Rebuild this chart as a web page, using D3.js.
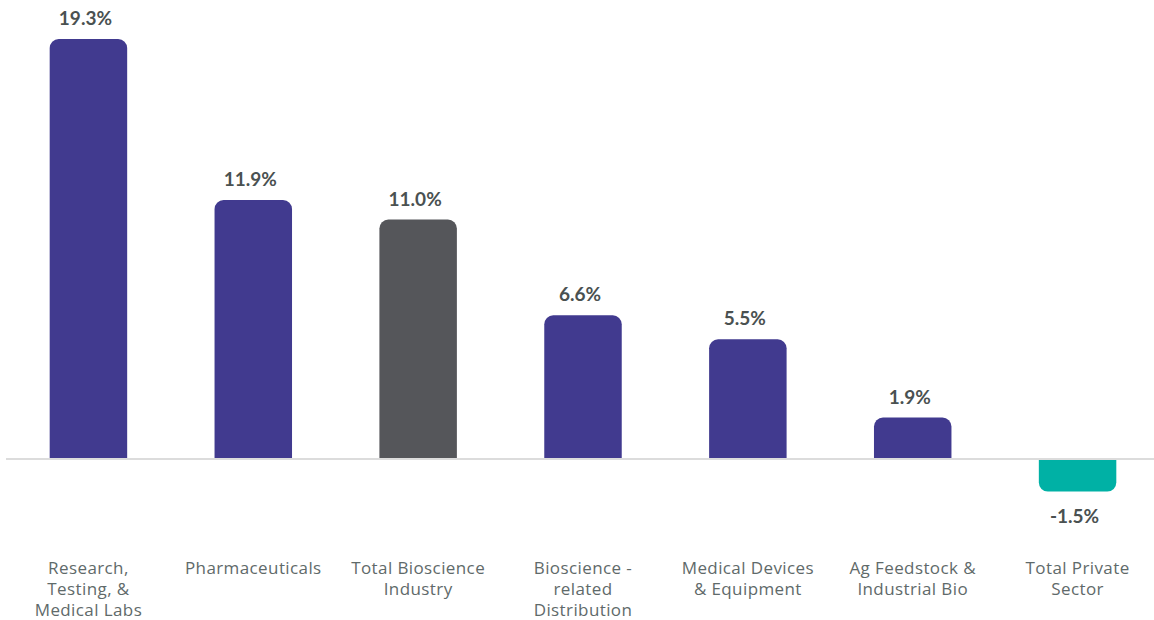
<!DOCTYPE html>
<html>
<head>
<meta charset="utf-8">
<script src="https://cdn.jsdelivr.net/npm/d3@7"></script>
<style>
  body { margin: 0; background: #fff; }
  svg { display: block; font-family: Lato, "Noto Sans", sans-serif; }
</style>
</head>
<body>
<script>
const categories = [
  ["Research,", "Testing, &", "Medical Labs"],
  ["Pharmaceuticals"],
  ["Total Bioscience", "Industry"],
  ["Bioscience -", "related", "Distribution"],
  ["Medical Devices", "& Equipment"],
  ["Ag Feedstock &", "Industrial Bio"],
  ["Total Private", "Sector"]
];
const values = [19.3, 11.9, 11.0, 6.6, 5.5, 1.9, -1.5];
const kinds = ["segment", "segment", "total", "segment", "segment", "segment", "private"];
const colors = { segment: "#413a8f", total: "#55565a", private: "#00b1a5" };

const width = 1154, height = 620;
const svg = d3.select("body").append("svg")
  .attr("width", width).attr("height", height);

const x = d3.scaleBand()
  .domain(d3.range(values.length))
  .range([6, 1160])
  .paddingInner(0.53)
  .paddingOuter(0.265);

const y = d3.scaleLinear()
  .domain([-1.5, 19.3])
  .range([491.6, 39]);

const r = 9;
function barPath(i) {
  const x0 = x(i), w = x.bandwidth(), y0 = y(0), y1 = y(values[i]);
  const s = values[i] >= 0 ? 1 : -1;
  const p = d3.path();
  p.moveTo(x0, y0);
  p.lineTo(x0, y1 + s * r);
  p.arcTo(x0, y1, x0 + r, y1, r);
  p.lineTo(x0 + w - r, y1);
  p.arcTo(x0 + w, y1, x0 + w, y1 + s * r, r);
  p.lineTo(x0 + w, y0);
  p.closePath();
  return p.toString();
}

svg.append("g").selectAll("path")
  .data(values)
  .join("path")
  .attr("d", (d, i) => barPath(i))
  .attr("fill", (d, i) => colors[kinds[i]]);

// zero line
svg.append("line")
  .attr("x1", 6).attr("x2", width)
  .attr("y1", y(0)).attr("y2", y(0))
  .attr("stroke", "#dcdcdc").attr("stroke-width", 2);

// value labels
svg.append("g").selectAll("text")
  .data(values)
  .join("text")
  .attr("x", (d, i) => x(i) + x.bandwidth() / 2 - 3)
  .attr("y", d => d >= 0 ? y(d) - 14 : y(d) + 31)
  .attr("text-anchor", "middle")
  .attr("font-size", 19)
  .attr("font-weight", 700)
  .attr("fill", "#4a5151")
  .text(d => d.toFixed(1) + "%");

// category labels
const cat = svg.append("g").selectAll("text")
  .data(categories)
  .join("text")
  .attr("text-anchor", "middle")
  .attr("font-family", "'Open Sans', sans-serif")
  .attr("font-size", 17)
  .attr("letter-spacing", 0.4)
  .attr("fill", "#5f6a6a")
  .attr("x", (d, i) => x(i) + x.bandwidth() / 2)
  .attr("y", 574);
cat.selectAll("tspan")
  .data(d => d)
  .join("tspan")
  .attr("x", function () { return this.parentNode.getAttribute("x"); })
  .attr("dy", (d, j) => j === 0 ? 0 : 21)
  .text(d => d);
</script>
</body>
</html>
